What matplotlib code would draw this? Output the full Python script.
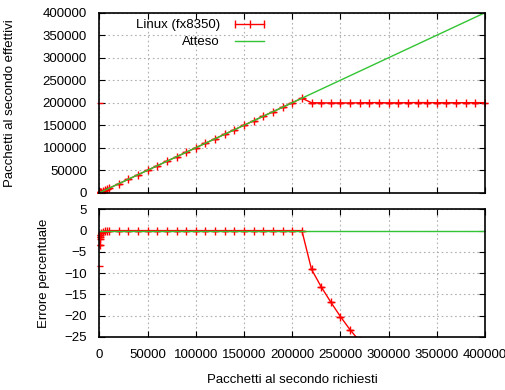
import matplotlib
matplotlib.use("Agg")
import matplotlib.pyplot as plt
from matplotlib.lines import Line2D
from matplotlib.transforms import Bbox, TransformedBbox

# =============================
# DATA
# =============================
requested = [100, 200, 500, 1000, 2000, 4000, 6000, 8000, 10000,
             20000, 30000, 40000, 50000, 60000, 70000, 80000, 90000, 100000,
             110000, 120000, 130000, 140000, 150000, 160000, 170000, 180000, 190000, 200000,
             210000, 220000, 230000, 240000, 250000, 260000, 270000, 280000, 290000, 300000,
             310000, 320000, 330000, 340000, 350000, 360000, 370000, 380000, 390000, 400000]

measured = [100, 200, 500, 1000, 2000, 4000, 6000, 8000, 10000,
            20000, 30000, 40000, 50000, 60000, 70000, 80000, 90000, 100000,
            110000, 120000, 130000, 140000, 150000, 160000, 170000, 180000, 190000, 200000,
            210000, 200000, 199700, 199500, 199600, 199500, 199800, 200100, 200200, 199600,
            199900, 200000, 200300, 200200, 200000, 200100, 200000, 200000, 200100, 200200]

# upper error of the first sample is huge (only its cap is visible)
measured_err_up = [199900] + [0] * 47

error_pct = [-2.0, -3.4, -1.5, -1.0, -0.6, -0.3, 0, 0, 0,
             0, 0, 0, 0, 0, 0, 0, 0, 0,
             0, 0, 0, 0, 0, 0, 0, 0, 0, 0,
             0, -9.1, -13.2, -16.8, -20.2, -23.3, -26.0, -28.5, -31.0, -33.5,
             -35.5, -37.5, -39.3, -41.1, -42.9, -44.4, -45.9, -47.4, -48.7, -49.9]

error_err_down = [6.3] + [0] * 47

expected_x = [0, 400000]
expected_y = [0, 400000]
expected_err = [0, 0]

x_ticks = [0, 50000, 100000, 150000, 200000, 250000, 300000, 350000, 400000]
top_yticks = [0, 50000, 100000, 150000, 200000, 250000, 300000, 350000, 400000]
bottom_yticks = [-25, -20, -15, -10, -5, 0, 5]

# =============================
# STYLE
# =============================
plt.rcParams['font.family'] = ['Liberation Sans', 'DejaVu Sans']
plt.rcParams['font.size'] = 9.5

RED = '#ff0000'
GREEN = '#33c433'
GRID = dict(color='#b0b0b0', linestyle=(0, (1.5, 2.5)), linewidth=0.8)
PTS = dict(color=RED, lw=1, marker='+', ms=5.5, mew=1, capsize=2.5,
           elinewidth=0.8, zorder=2)

fig = plt.figure(figsize=(5.06, 3.90), dpi=100)
ax1 = fig.add_axes([0.1966, 0.5059, 0.7619, 0.4615])
ax2 = fig.add_axes([0.1966, 0.1359, 0.7619, 0.3274])


def style_axis(ax):
    ax.tick_params(direction='in', length=4, width=0.8, pad=9,
                   top=True, right=True)
    ax.grid(True, **GRID)
    ax.set_axisbelow(True)
    for s in ax.spines.values():
        s.set_linewidth(1.2)
        s.set_zorder(5)


def tidy_errorbars(ax, container):
    # the bars themselves sit on the left frame, only the caps show;
    # caps at x=0 stick out a little left of the frame
    box = TransformedBbox(Bbox([[-0.02, 0], [1.02, 1]]), ax.transAxes)
    for cap in container[1]:
        cap.set_clip_box(box)
    for bars in container[2]:
        bars.set_visible(False)


# =============================
# TOP PANEL
# =============================
eb1 = ax1.errorbar(requested, measured,
                   yerr=[[0] * len(measured), measured_err_up], **PTS)
tidy_errorbars(ax1, eb1)
ax1.plot(expected_x, expected_y, color=GREEN, lw=1, zorder=4)
ax1.set_xlim(0, 400000)
ax1.set_ylim(0, 400000)
ax1.set_xticks(x_ticks)
ax1.set_xticklabels([])
ax1.set_yticks(top_yticks)
style_axis(ax1)
ax1.set_ylabel('Pacchetti al secondo effettivi')
ax1.yaxis.set_label_coords(-0.2166, 0.5)

handles = [Line2D([], [], color=RED, lw=1, marker='|', ms=6, mew=1),
           Line2D([], [], color=GREEN, lw=1)]
leg = ax1.legend(handles, ['Linux (fx8350)', 'Atteso'],
                 loc='upper right', bbox_to_anchor=(268 / 506, 1 - 19 / 390),
                 bbox_transform=fig.transFigure, frameon=False,
                 markerfirst=False, numpoints=3, handlelength=2.8,
                 handletextpad=0.85, labelspacing=0.38, borderpad=0,
                 borderaxespad=0)

# =============================
# BOTTOM PANEL
# =============================
eb2 = ax2.errorbar(requested, error_pct,
                   yerr=[error_err_down, [0] * len(error_pct)], **PTS)
tidy_errorbars(ax2, eb2)
ax2.plot(expected_x, expected_err, color=GREEN, lw=1, zorder=4)
ax2.set_xlim(0, 400000)
ax2.set_ylim(-25, 5)
ax2.set_xticks(x_ticks)
ax2.set_xticklabels([str(t) for t in x_ticks])
ax2.set_yticks(bottom_yticks)
style_axis(ax2)
ax2.set_ylabel('Errore percentuale')
ax2.yaxis.set_label_coords(-0.128, 0.5)
ax2.set_xlabel('Pacchetti al secondo richiesti')
ax2.xaxis.set_label_coords(0.5, -0.29)

fig.savefig('out.png', dpi=100)
